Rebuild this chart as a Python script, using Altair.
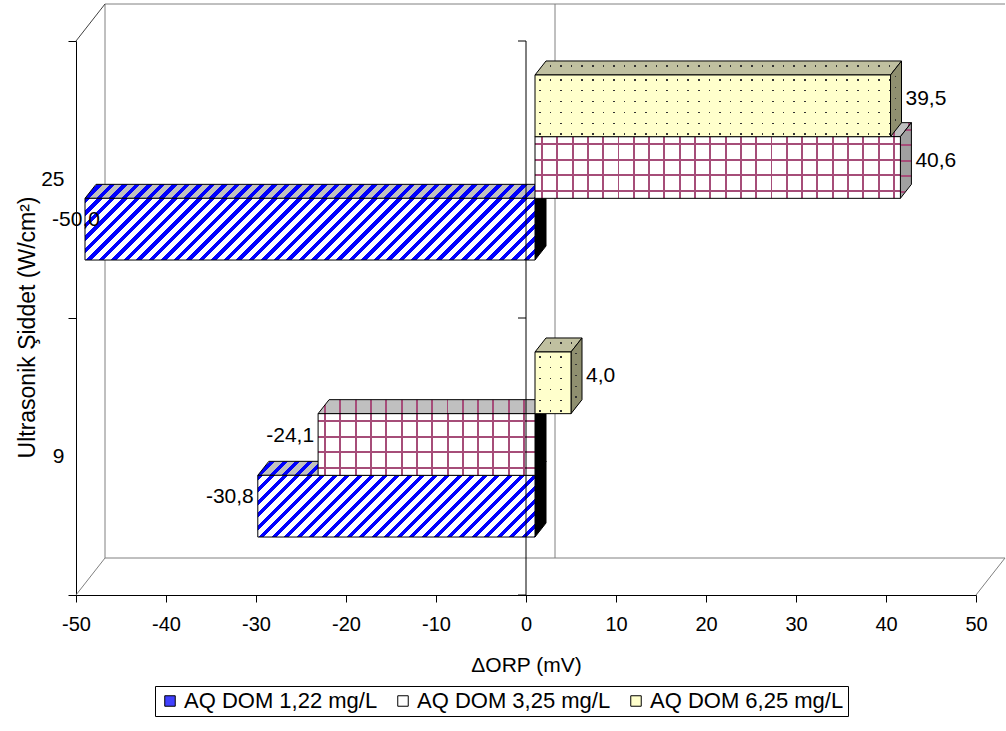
import altair as alt
import pandas as pd

# ------------------------------------------------------------------ data
categories = ["25", "9"]                      # listed top to bottom
series = ["AQ DOM 1,22 mg/L", "AQ DOM 3,25 mg/L", "AQ DOM 6,25 mg/L"]
values_25 = [-50.0, 40.6, 39.5]
values_9 = [-30.8, -24.1, 4.0]
values_by_cat = {"25": values_25, "9": values_9}
x_ticks = [-50, -40, -30, -20, -10, 0, 10, 20, 30, 40, 50]
x_title = "ΔORP (mV)"
y_title = "Ultrasonik Şiddet (W/cm²)"

# ------------------------------------------------------------------ layout / style
FONT = "Liberation Sans"
PLOT_W, PLOT_H = 900, 554
X_DOM = [x_ticks[0], x_ticks[-1]]
N_CAT = len(categories)
PX_X = PLOT_W / (X_DOM[1] - X_DOM[0])
PX_Y = PLOT_H / N_CAT
GROUP_FRAC = 0.668
BAR_U = GROUP_FRAC / len(series)
FRONT_DX, FRONT_DY = 9, -12          # bars sit a little behind the front plane
DEPTH_PX = (11, 14)                   # bar depth (right, up)
FRAME_PX = (29, 37)                   # wall depth (right, up)
DXU, DYU = DEPTH_PX[0] / PX_X, DEPTH_PX[1] / PX_Y
FXU, FYU = FRAME_PX[0] / PX_X, FRAME_PX[1] / PX_Y
BAR_H_PX = BAR_U * PX_Y
LABEL_X_MIN = -47.9
CLEAR = "rgba(0,0,0,0)"


def stripes(w, h, period=12.5, frac=0.42, on="#0000ff", off="#ffffff"):
    s = (w + h) / (w * w + h * h)
    n = (w + h) / period
    stops = []
    k = 0
    while k < n:
        a, b, c = k / n, min((k + frac) / n, 1.0), min((k + 1) / n, 1.0)
        stops += [(a, on), (b, on), (b, off), (c, off)]
        k += 1
    return {"gradient": "linear", "x1": 0, "y1": 0, "x2": s * w, "y2": s * h,
            "stops": [{"offset": round(o, 5), "color": col} for o, col in stops]}


def lines(length, period, width, phase, line, bg, vertical=True):
    stops = [(0.0, bg)]
    p = phase
    while p < length:
        a, b = min(p / length, 1.0), min((p + width) / length, 1.0)
        stops += [(a, bg), (a, line), (b, line), (b, bg)]
        p += period
    stops.append((1.0, bg))
    return {"gradient": "linear", "x1": 0, "y1": 0,
            "x2": 1 if vertical else 0, "y2": 0 if vertical else 1,
            "stops": [{"offset": round(o, 5), "color": col} for o, col in stops]}


PINK = "#a64d79"


def fills(si, face, w, h, negative):
    if face == "side" and negative:
        return ["#000000"]
    if si == 0:
        bg = {"front": "#ffffff", "top": "#c0c0c0", "side": "#9a9a9a"}[face]
        return [stripes(w, h, off=bg)]
    if si == 1:
        bg = {"front": "#ffffff", "top": "#c0c0c0", "side": "#a0a0a0"}[face]
        if face == "top":
            return [lines(w, 15.3, 2, 6, PINK, bg, True)]
        if face == "side":
            return [lines(h, 15.5, 2, 6, PINK, bg, False)]
        return [lines(w, 15.3, 2, 6, PINK, bg, True),
                lines(h, 15.5, 2, 6.5, PINK, CLEAR, False)]
    bg = {"front": "#ffffcc", "top": "#c0c0a0", "side": "#8f8f6f"}[face]
    return [lines(w, 10.6, 1.6, 4, "#333333", bg, True),
            lines(h, 10.9, 1.6, 4, CLEAR, bg, False)]


x_axis = alt.Axis(values=x_ticks, labelExpr="datum.value + ''", tickSize=7, tickColor="black",
                  domainColor="black", grid=False, labelFont=FONT, labelFontSize=20,
                  labelColor="black", labelPadding=12, labelFlush=False, labelOverlap=False,
                  titleFont=FONT, titleFontSize=21, titleFontWeight="normal", titleColor="black",
                  titleBaseline="alphabetic", titleY=76)
y_label_expr = " : ".join(
    f"datum.value == {N_CAT - 1 - i + 0.5} ? '{c}'" for i, c in enumerate(categories)) + " : ''"
y_axis = alt.Axis(values=[i * 0.5 for i in range(2 * N_CAT + 1)], labelExpr=y_label_expr,
                  tickOpacity={"condition": {"test": "datum.value % 1 === 0", "value": 1}, "value": 0},
                  tickSize=8, tickColor="black", domainColor="black", grid=False,
                  labelFont=FONT, labelFontSize=21, labelColor="black", labelPadding=4,
                  labelOverlap=False, labelFlush=False,
                  titleFont=FONT, titleFontSize=23, titleFontWeight="normal", titleColor="black",
                  titleBaseline="alphabetic", titleX=-42, titleY=286)
x_scale = alt.Scale(domain=X_DOM, nice=False, zero=False)
y_scale = alt.Scale(domain=[0, N_CAT], nice=False, zero=False)


def X(f):
    return alt.X(f, type="quantitative", scale=x_scale, axis=x_axis, title=x_title)


def Y(f):
    return alt.Y(f, type="quantitative", scale=y_scale, axis=y_axis, title=y_title)


layers = []

# ---- 3D frame (back wall, floor, zero gridline on back wall)
xl, xr, yb, yt = X_DOM[0], X_DOM[1], 0, N_CAT
frame = pd.DataFrame([
    dict(x=xl + FXU, x2=xl + FXU, y=yb + FYU, y2=yt + FYU),
    dict(x=xl + FXU, x2=xr + FXU, y=yt + FYU, y2=yt + FYU),
    dict(x=xl + FXU, x2=xr + FXU, y=yb + FYU, y2=yb + FYU),
    dict(x=xl, x2=xl + FXU, y=yb, y2=yb + FYU),
    dict(x=xr, x2=xr + FXU, y=yb, y2=yb + FYU),
    dict(x=FXU, x2=FXU, y=yb + FYU, y2=yt + FYU),
])
layers.append(alt.Chart(frame).mark_rule(color="#808080", strokeWidth=1).encode(
    x=X("x"), x2="x2", y=Y("y"), y2="y2"))
side_wall_top = pd.DataFrame([dict(x=xl, x2=xl + FXU, y=yt, y2=yt + FYU)])
layers.append(alt.Chart(side_wall_top).mark_rule(color="#404040", strokeWidth=1).encode(
    x=X("x"), x2="x2", y=Y("y"), y2="y2"))


def add_face(df, kind, fill_list):
    for i, f in enumerate(fill_list):
        last = i == len(fill_list) - 1
        props = dict(fill=f, xOffset=FRONT_DX, x2Offset=FRONT_DX,
                     yOffset=FRONT_DY, y2Offset=FRONT_DY, opacity=1)
        if last:
            props.update(stroke="black", strokeWidth=1)
        else:
            props.update(strokeWidth=0)
        if kind == "front":
            m = alt.Chart(df).mark_rect(**props).encode(x=X("x"), x2="x2", y=Y("y"), y2="y2")
        elif kind == "top":
            m = alt.Chart(df).mark_area(orient="horizontal", **props).encode(
                y=Y("y"), x=X("x"), x2="x2")
        else:
            m = alt.Chart(df).mark_area(orient="vertical", **props).encode(
                x=X("x"), y=Y("y"), y2="y2")
        layers.append(m)


label_rows = []
for ci, cat in enumerate(categories):
    base = N_CAT - 1 - ci
    for si, name in enumerate(series):
        v = values_by_cat[cat][si]
        y0 = base + (1 - GROUP_FRAC) / 2 + si * BAR_U
        y1 = y0 + BAR_U
        x0, x1 = min(0, v), max(0, v)
        neg = v < 0
        wpx = abs(v) * PX_X
        top = pd.DataFrame([dict(y=y1, x=x0, x2=x1), dict(y=y1 + DYU, x=x0 + DXU, x2=x1 + DXU)])
        side = pd.DataFrame([dict(x=x1, y=y0, y2=y1), dict(x=x1 + DXU, y=y0 + DYU, y2=y1 + DYU)])
        front = pd.DataFrame([dict(x=x0, x2=x1, y=y0, y2=y1)])
        add_face(top, "top", fills(si, "top", wpx + DEPTH_PX[0], DEPTH_PX[1], neg))
        add_face(side, "side", fills(si, "side", DEPTH_PX[0], BAR_H_PX + DEPTH_PX[1], neg))
        add_face(front, "front", fills(si, "front", wpx, BAR_H_PX, neg))
        label_rows.append(dict(value=v, yc=(y0 + y1) / 2,
                               text=f"{v:.1f}".replace(".", ","), series=name))

# ---- front zero line with its ticks (in front of the bars)
zero_line = pd.DataFrame([dict(x=0, x2=0, y=0, y2=N_CAT)] +
                         [dict(x=0, x2=-8 / PX_X, y=k, y2=k) for k in range(N_CAT + 1)])
layers.append(alt.Chart(zero_line).mark_rule(color="black", strokeWidth=1).encode(
    x=X("x"), x2="x2", y=Y("y"), y2="y2"))

# ---- value labels
labels = pd.DataFrame(label_rows)
pos = labels[labels.value >= 0]
negl = labels[labels.value < 0]
layers.append(alt.Chart(pos).mark_text(align="left", baseline="middle", dx=24, dy=-19,
                                       font=FONT, fontSize=21, color="black").encode(
    x=X("value"), y=Y("yc"), text="text:N"))
layers.append(alt.Chart(negl).transform_calculate(
    lx=f"max(datum.value, {LABEL_X_MIN})").mark_text(
    align="right", baseline="middle", dx=5, dy=-21, font=FONT, fontSize=21, color="black").encode(
    x=X("lx"), y=Y("yc"), text="text:N"))

# ---- legend
legend_df = pd.DataFrame({"series": series})
layers.append(alt.Chart(legend_df).mark_point(shape="square", filled=True, opacity=0).encode(
    x=alt.value(0), y=alt.value(0),
    color=alt.Color("series:N", scale=alt.Scale(domain=series,
                                                range=["#4040ff", "#ffffff", "#ffffcc"]),
                    legend=alt.Legend(orient="none", legendX=79, legendY=645,
                                      direction="horizontal", title=None,
                                      strokeColor="black", padding=4,
                                      symbolType="square", symbolSize=110,
                                      symbolStrokeColor="black", symbolStrokeWidth=1,
                                      symbolOpacity=1, labelFont=FONT, labelFontSize=22,
                                      labelColor="black", labelOffset=3, labelLimit=0,
                                      columnPadding=14))))

chart = alt.layer(*layers).properties(
    width=PLOT_W, height=PLOT_H,
    padding={"left": 76, "top": 41, "right": 30, "bottom": 136},
    autosize=alt.AutoSizeParams(type="none"),
).configure_view(stroke=None)

chart.save("out.html", embed_options={"renderer": "svg", "actions": False})
